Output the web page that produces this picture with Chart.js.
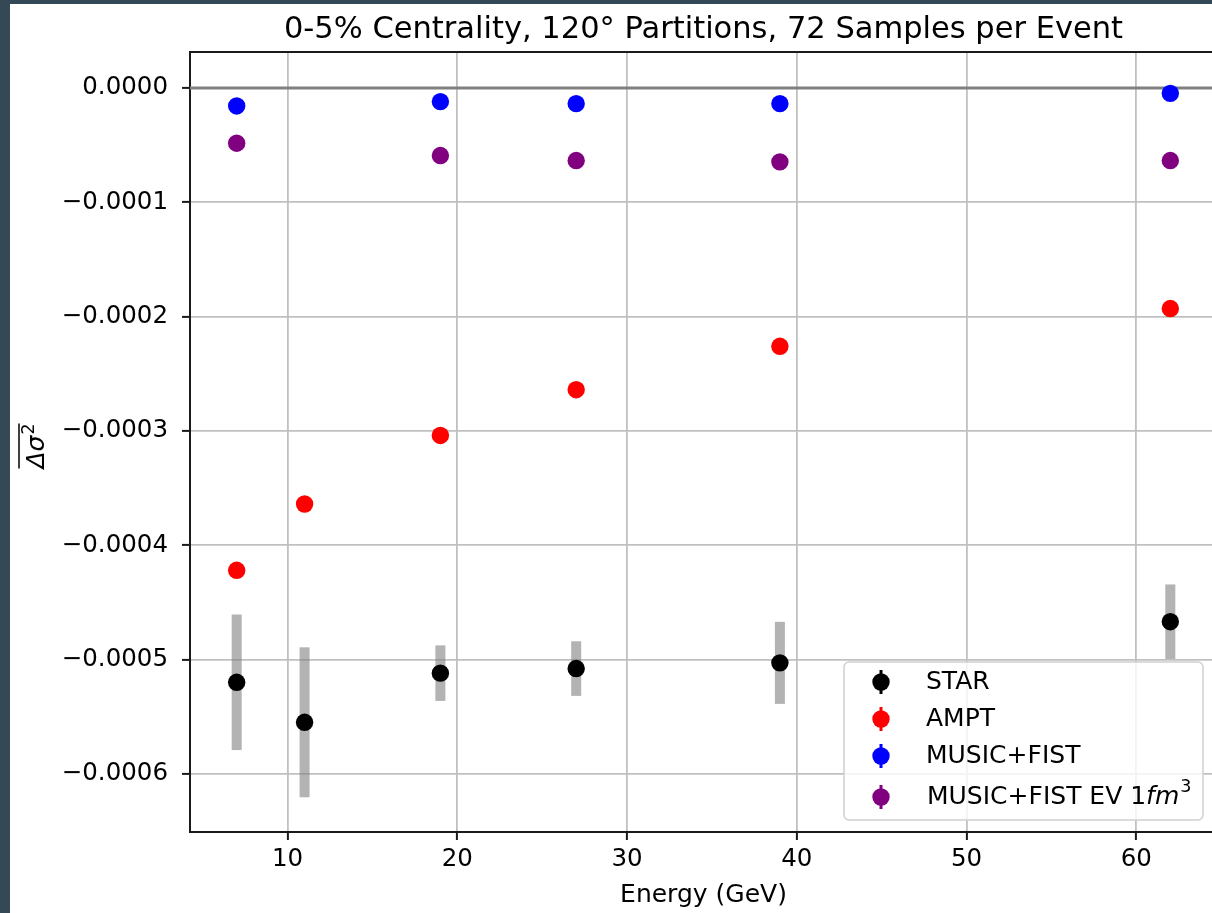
<!DOCTYPE html>
<html>
<head>
<meta charset="utf-8">
<script src="https://cdn.jsdelivr.net/npm/chart.js@4.4.1/dist/chart.umd.min.js"></script>
<style>
  html, body { margin: 0; padding: 0; overflow: hidden; background: #344955; width: 1212px; height: 913px; }
  #wrap { position: absolute; left: 10px; top: 4px; width: 1225px; height: 909px; background: #fff; }
</style>
</head>
<body>
<div id="wrap"><canvas id="chart" width="1225" height="909"></canvas></div>
<script>
// Data
const energies = [7, 11, 19, 27, 39, 62];
const starValues = [-0.000520, -0.000555, -0.000512, -0.000508, -0.000503, -0.000467];
const starErrors = [0.0000593, 0.0000656, 0.0000243, 0.0000239, 0.0000359, 0.0000326];
const amptValues = [-0.000422, -0.000364, -0.000304, -0.000264, -0.000226, -0.000193];
const modelEnergies = [7, 19, 27, 39, 62];
const musicValues = [-0.0000157, -0.0000119, -0.0000137, -0.0000137, -0.0000047];
const musicEvValues = [-0.0000483, -0.0000591, -0.0000635, -0.0000646, -0.0000635];

const titleText = '0-5% Centrality, 120\u00b0 Partitions, 72 Samples per Event';
const FONT = '"DejaVu Sans", sans-serif';

function pts(xs, ys) {
    return xs.map((x, i) => ({ x: x, y: ys[i] }));
}

function dataset(label, xs, ys, color) {
    return {
        label: label,
        data: pts(xs, ys),
        backgroundColor: color,
        borderColor: color,
        borderWidth: 0,
        pointRadius: 8.7,
        pointHoverRadius: 8.7
    };
}

const datasets = [
    dataset('STAR', energies, starValues, '#000000'),
    dataset('AMPT', energies, amptValues, '#ff0000'),
    dataset('MUSIC+FIST', modelEnergies, musicValues, '#0000ff'),
    dataset('MUSIC+FIST EV 1fm3', modelEnergies, musicEvValues, '#800080')
];

// grey error bars, zero line, top spine
const decorations = {
    id: 'decorations',
    beforeDatasetsDraw(chart) {
        const ctx = chart.ctx;
        const xs = chart.scales.x, ys = chart.scales.y;
        const area = chart.chartArea;
        ctx.save();
        ctx.fillStyle = 'rgba(128,128,128,0.6)';
        energies.forEach((e, i) => {
            const px = xs.getPixelForValue(e);
            const top = ys.getPixelForValue(starValues[i] + starErrors[i]);
            const bot = ys.getPixelForValue(starValues[i] - starErrors[i]);
            ctx.fillRect(px - 5, top, 10, bot - top);
        });
        const y0 = ys.getPixelForValue(0);
        ctx.strokeStyle = '#808080';
        ctx.lineWidth = 2.8;
        ctx.beginPath();
        ctx.moveTo(area.left, y0);
        ctx.lineTo(area.right, y0);
        ctx.stroke();
        ctx.restore();
    },
    afterDraw(chart) {
        const ctx = chart.ctx;
        const area = chart.chartArea;
        ctx.save();
        // top spine
        ctx.strokeStyle = '#1a1a1a';
        ctx.lineWidth = 2;
        ctx.beginPath();
        ctx.moveTo(area.left - 1, area.top);
        ctx.lineTo(area.right, area.top);
        ctx.stroke();

        // title
        ctx.fillStyle = '#000';
        ctx.font = '30.5px ' + FONT;
        ctx.textAlign = 'center';
        ctx.textBaseline = 'alphabetic';
        ctx.fillText(titleText, (area.left + area.right) / 2, 34);

        // y label: overline(Delta sigma^2), rotated
        ctx.save();
        ctx.translate(34, (area.top + area.bottom) / 2 + 4);
        ctx.rotate(-Math.PI / 2);
        ctx.textAlign = 'left';
        ctx.font = 'italic 25px ' + FONT;
        const w1 = ctx.measureText('\u0394\u03c3').width;
        ctx.font = '17.5px ' + FONT;
        const w2 = ctx.measureText('2').width;
        const x0 = -(w1 + w2 + 1) / 2;
        ctx.font = 'italic 25px ' + FONT;
        ctx.fillText('\u0394\u03c3', x0, 0);
        ctx.font = '17.5px ' + FONT;
        ctx.fillText('2', x0 + w1 + 1, -10);
        ctx.strokeStyle = '#000';
        ctx.lineWidth = 1.5;
        ctx.beginPath();
        ctx.moveTo(x0, -25);
        ctx.lineTo(x0 + w1 + w2 + 1, -25);
        ctx.stroke();
        ctx.restore();

        // legend
        const lx = 834, ly = 658, lw = 359, lh = 158;
        ctx.fillStyle = 'rgba(255,255,255,0.8)';
        ctx.strokeStyle = '#d0d0d0';
        ctx.lineWidth = 1.5;
        ctx.beginPath();
        ctx.roundRect(lx, ly, lw, lh, 5);
        ctx.fill();
        ctx.stroke();
        const rows = [678, 715, 752, 793];
        chart.data.datasets.forEach((ds, i) => {
            const ry = rows[i];
            ctx.strokeStyle = ds.backgroundColor;
            ctx.lineWidth = 3;
            ctx.beginPath();
            ctx.moveTo(871, ry - 12);
            ctx.lineTo(871, ry + 12);
            ctx.stroke();
            ctx.fillStyle = ds.backgroundColor;
            ctx.beginPath();
            ctx.arc(871, ry, 8.7, 0, Math.PI * 2);
            ctx.fill();
            ctx.fillStyle = '#000';
            ctx.textAlign = 'left';
            ctx.textBaseline = 'middle';
            ctx.font = '25px ' + FONT;
            if (i < 3) {
                ctx.fillText(ds.label, 916, ry);
            } else {
                let tx = 917;
                const a = 'MUSIC+FIST EV 1';
                ctx.fillText(a, tx, ry);
                tx += ctx.measureText(a).width;
                ctx.font = 'italic 25px ' + FONT;
                ctx.fillText('fm', tx, ry);
                tx += ctx.measureText('fm').width + 1;
                ctx.font = '17.5px ' + FONT;
                ctx.fillText('3', tx, ry - 10);
            }
        });
        ctx.restore();
    }
};

function fmtY(v) {
    if (Math.abs(v) < 1e-12) return '0.0000';
    return (v < 0 ? '\u2212' : '') + Math.abs(v).toFixed(4);
}

new Chart(document.getElementById('chart').getContext('2d'), {
    type: 'scatter',
    data: { datasets: datasets },
    options: {
        responsive: false,
        animation: false,
        events: [],
        layout: { padding: { top: 48, right: 18, bottom: 0, left: 0 } },
        plugins: {
            legend: { display: false },
            tooltip: { enabled: false },
            title: { display: false }
        },
        scales: {
            x: {
                type: 'linear',
                min: 4.25,
                max: 64.75,
                afterFit(scale) { scale.height = 81; },
                ticks: {
                    stepSize: 10,
                    includeBounds: false,
                    color: '#000',
                    font: { family: FONT, size: 24.5 },
                    padding: 5,
                    maxRotation: 0
                },
                grid: { color: '#c0c0c0', lineWidth: 1.8, tickColor: '#1a1a1a', tickLength: 8, tickWidth: 2 },
                border: { display: true, color: '#1a1a1a', width: 2 },
                title: {
                    display: true,
                    text: 'Energy (GeV)',
                    color: '#000',
                    font: { family: FONT, size: 25 },
                    padding: { top: 0, bottom: 3 }
                }
            },
            y: {
                type: 'linear',
                min: -0.000651,
                max: 0.0000315,
                afterFit(scale) { scale.width = 180; },
                ticks: {
                    stepSize: 0.0001,
                    includeBounds: false,
                    color: '#000',
                    font: { family: FONT, size: 24.5 },
                    padding: 14,
                    callback: fmtY
                },
                grid: { color: '#c0c0c0', lineWidth: 1.8, tickColor: '#1a1a1a', tickLength: 8, tickWidth: 2 },
                border: { display: true, color: '#1a1a1a', width: 2 }
            }
        }
    },
    plugins: [decorations]
});
</script>
</body>
</html>
